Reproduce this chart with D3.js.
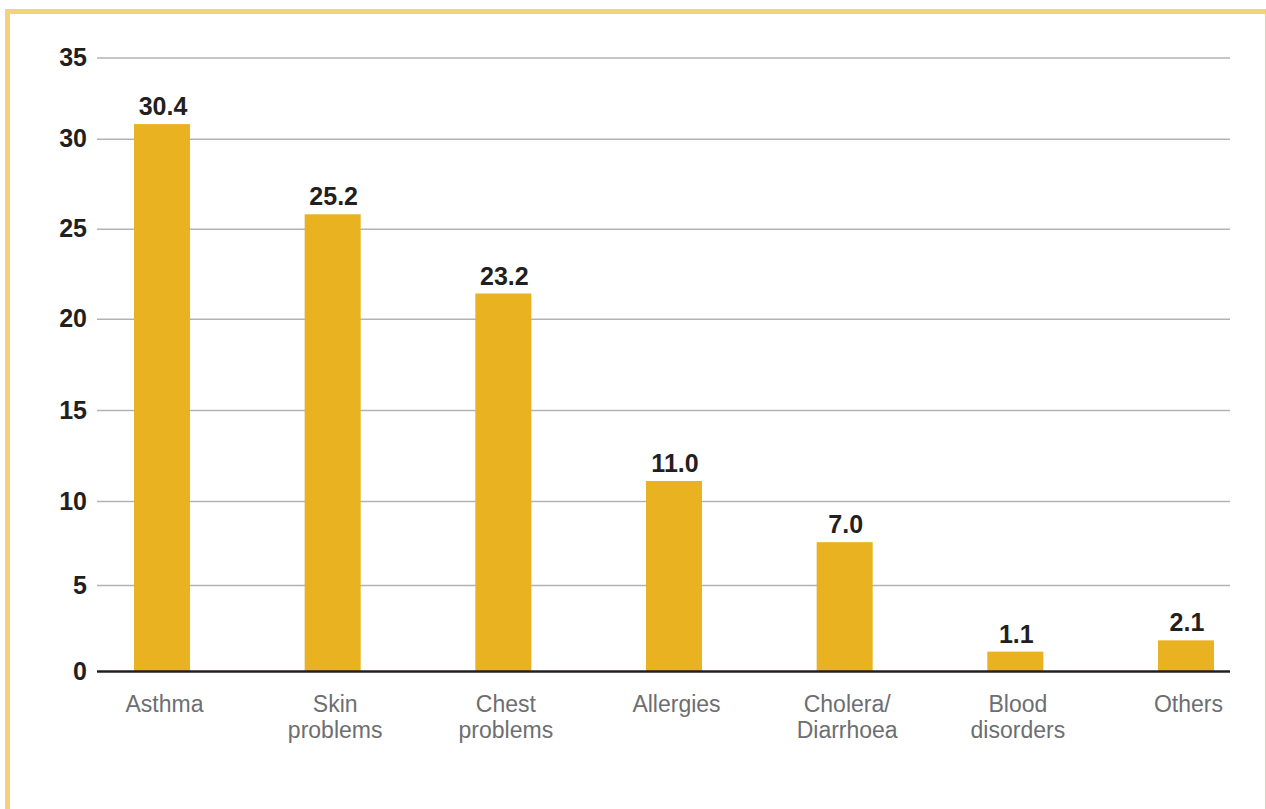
<!DOCTYPE html>
<html>
<head>
<meta charset="utf-8">
<script src="https://cdn.jsdelivr.net/npm/d3@7"></script>
<style>
  html, body { margin: 0; padding: 0; background: #fff; }
  svg { display: block; }
</style>
</head>
<body>
<svg id="chart" width="1266" height="809"></svg>
<script>
// ---- data ----
const categories = ["Asthma", "Skin problems", "Chest problems", "Allergies", "Cholera/ Diarrhoea", "Blood disorders", "Others"];
const categoryLines = [["Asthma"], ["Skin", "problems"], ["Chest", "problems"], ["Allergies"], ["Cholera/", "Diarrhoea"], ["Blood", "disorders"], ["Others"]];
const valueLabels = ["30.4", "25.2", "23.2", "11.0", "7.0", "1.1", "2.1"];
// bar heights as drawn in the picture (read against its gridlines)
const values = [30.9, 25.8, 21.4, 11.1, 7.55, 1.15, 1.8];
const yTicks = [0, 5, 10, 15, 20, 25, 30, 35];

// ---- layout ----
const svg = d3.select("#chart");
const plotLeft = 97, plotRight = 1230;
const barW = 56;

// frame
svg.append("rect")
  .attr("x", 7.5).attr("y", 11.5)
  .attr("width", 1260).attr("height", 900)
  .attr("fill", "none")
  .attr("stroke", "#f3d27c")
  .attr("stroke-width", 5);

const x = d3.scalePoint().domain(categories).range([162, 1186]);
// the original's gridlines are unevenly spaced; a piecewise linear scale reproduces them
const y = d3.scaleLinear()
  .domain(yTicks)
  .range([671.5, 585, 501, 410, 318.7, 228.7, 138.7, 57.5]);

// gridlines + y labels
const yAxis = d3.axisLeft(y)
  .tickValues(yTicks)
  .tickSize(-(plotRight - plotLeft))
  .tickPadding(10)
  .tickFormat(d3.format("d"));

const gy = svg.append("g")
  .attr("transform", `translate(${plotLeft},0)`)
  .call(yAxis);
gy.select(".domain").remove();
gy.selectAll(".tick line")
  .attr("stroke", "#b3b3b3")
  .attr("stroke-width", 1.5);
gy.selectAll(".tick text")
  .attr("fill", "#231f20")
  .attr("font-family", "'Liberation Sans', Arial, Helvetica, sans-serif")
  .attr("font-weight", "bold")
  .attr("font-size", "25px");
gy.selectAll(".tick").filter(d => d === 0).select("line").remove();

// bars
svg.append("g").selectAll("rect")
  .data(values)
  .join("rect")
  .attr("x", (d, i) => x(categories[i]) - barW / 2)
  .attr("width", barW)
  .attr("y", d => y(d))
  .attr("height", d => y(0) - y(d))
  .attr("fill", "#e9b221");

// baseline
svg.append("line")
  .attr("x1", plotLeft).attr("x2", plotRight)
  .attr("y1", y(0)).attr("y2", y(0))
  .attr("stroke", "#231f20")
  .attr("stroke-width", 2.5);

// value labels
svg.append("g").selectAll("text")
  .data(values)
  .join("text")
  .attr("x", (d, i) => x(categories[i]) + 1)
  .attr("y", d => y(d) - 9)
  .attr("text-anchor", "middle")
  .attr("fill", "#231f20")
  .attr("font-family", "'Liberation Sans', Arial, Helvetica, sans-serif")
  .attr("font-weight", "bold")
  .attr("font-size", "25px")
  .text((d, i) => valueLabels[i]);

// category labels
const xAxis = d3.axisBottom(x).tickSize(0).tickPadding(0).tickFormat("");
const gx = svg.append("g")
  .attr("transform", `translate(0,${y(0)})`)
  .call(xAxis);
gx.select(".domain").remove();
gx.selectAll(".tick").each(function(d, i) {
  const t = d3.select(this).append("text")
    .attr("text-anchor", "middle")
    .attr("fill", "#6d6e71")
    .attr("font-family", "'Liberation Sans', Arial, Helvetica, sans-serif")
    .attr("font-size", "23px");
  categoryLines[i].forEach((line, j) => {
    t.append("tspan")
      .attr("x", 2)
      .attr("y", 40.5 + j * 26)
      .text(line);
  });
});
</script>
</body>
</html>
